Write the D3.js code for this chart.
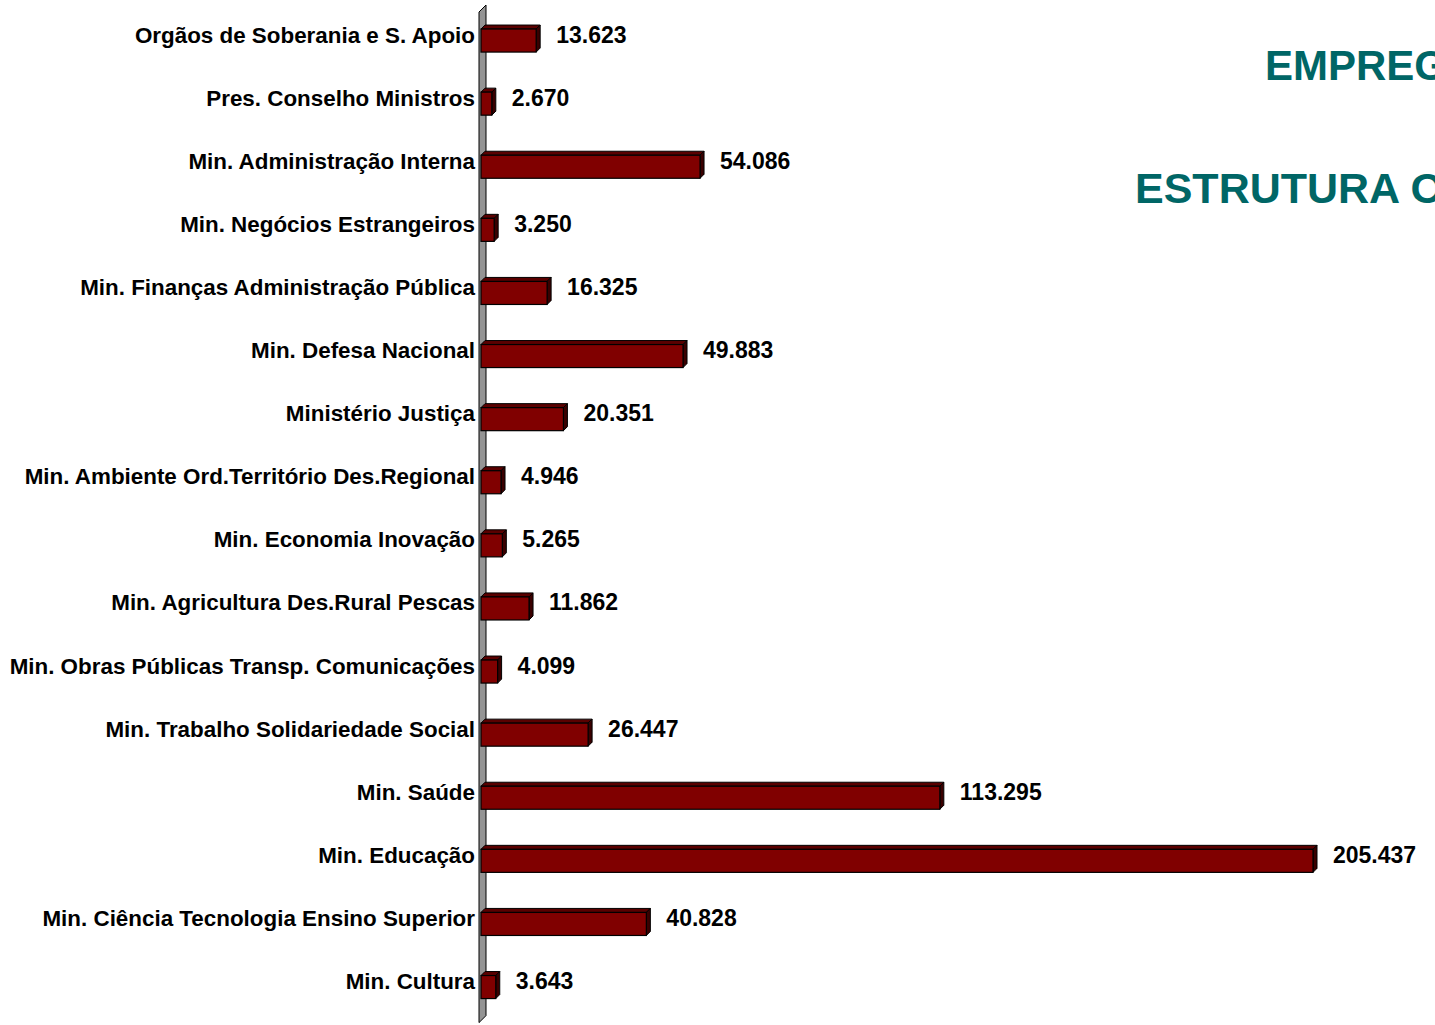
<!DOCTYPE html>
<html>
<head>
<meta charset="utf-8">
<script src="https://cdn.jsdelivr.net/npm/d3@7"></script>
<style>
  body { margin: 0; background: #fff; }
  svg { display: block; font-family: "Liberation Sans", Arial, sans-serif; }
</style>
</head>
<body>
<div id="chart"></div>
<script>
// Categories (top to bottom) and headcount per ministry
const categories = [
    "Orgãos de Soberania e S. Apoio",
    "Pres. Conselho Ministros",
    "Min. Administração Interna",
    "Min. Negócios Estrangeiros",
    "Min. Finanças Administração Pública",
    "Min. Defesa Nacional",
    "Ministério Justiça",
    "Min. Ambiente Ord.Território Des.Regional",
    "Min. Economia Inovação",
    "Min. Agricultura Des.Rural Pescas",
    "Min. Obras Públicas Transp. Comunicações",
    "Min. Trabalho Solidariedade Social",
    "Min. Saúde",
    "Min. Educação",
    "Min. Ciência Tecnologia Ensino Superior",
    "Min. Cultura"
];
const values = [13623, 2670, 54086, 3250, 16325, 49883, 20351, 4946, 5265, 11862, 4099, 26447, 113295, 205437, 40828, 3643];

const titleLines = ["EMPREGO PÚBLICO", "ESTRUTURA ORGÂNICA"];

const width = 1435, height = 1025;
const depth = 4; // 3D offset of bars

const data = categories.map((c, i) => ({ cat: c, value: values[i] }));

// Portuguese number format: 13.623
const pt = d3.formatLocale({ decimal: ",", thousands: ".", grouping: [3], currency: ["", " €"] });
const fmt = pt.format(",d");

const svg = d3.select("#chart").append("svg")
    .attr("width", width)
    .attr("height", height)
    .attr("viewBox", `0 0 ${width} ${height}`);

const x = d3.scaleLinear()
    .domain([0, d3.max(values)])
    .range([481, 1313]);

const y = d3.scaleBand()
    .domain(categories)
    .range([9, 1018.6])
    .paddingInner(0.635)
    .paddingOuter(0.3175);

// Back wall (gray slanted strip behind the bars)
const wx = x(0) - 2, wTop = y.range()[0] - 4, wBot = y.range()[1] + 4;
svg.append("polygon")
    .attr("points", [
        [wx, wTop + 7], [wx + 7, wTop], [wx + 7, wBot - 7], [wx, wBot]
    ].map(p => p.join(",")).join(" "))
    .attr("fill", "#949494")
    .attr("stroke", "#000")
    .attr("stroke-width", 1);

// Bars
const bars = svg.append("g").selectAll("g")
    .data(data)
    .join("g");

// top face
bars.append("polygon")
    .attr("points", d => {
        const x0 = x(0), x1 = x(d.value), yt = y(d.cat);
        return [[x0, yt], [x0 + depth, yt - depth], [x1 + depth, yt - depth], [x1, yt]]
            .map(p => p.join(",")).join(" ");
    })
    .attr("fill", "#5a0000")
    .attr("stroke", "#000")
    .attr("stroke-width", 1)
    .attr("stroke-linejoin", "round");

// side face
bars.append("polygon")
    .attr("points", d => {
        const x1 = x(d.value), yt = y(d.cat), yb = yt + y.bandwidth();
        return [[x1, yt], [x1 + depth, yt - depth], [x1 + depth, yb - depth], [x1, yb]]
            .map(p => p.join(",")).join(" ");
    })
    .attr("fill", "#3a0000")
    .attr("stroke", "#000")
    .attr("stroke-width", 1)
    .attr("stroke-linejoin", "round");

// front face
bars.append("rect")
    .attr("x", x(0))
    .attr("y", d => y(d.cat))
    .attr("width", d => x(d.value) - x(0))
    .attr("height", y.bandwidth())
    .attr("fill", "#800000")
    .attr("stroke", "#000")
    .attr("stroke-width", 1.2);

// Category labels
svg.append("g").selectAll("text")
    .data(data)
    .join("text")
    .attr("x", 475)
    .attr("y", d => y(d.cat) + y.bandwidth() / 2 + 2)
    .attr("text-anchor", "end")
    .attr("font-size", 22.4)
    .attr("font-weight", "bold")
    .attr("fill", "#000")
    .text(d => d.cat);

// Value labels
svg.append("g").selectAll("text")
    .data(data)
    .join("text")
    .attr("x", d => x(d.value) + 20)
    .attr("y", d => y(d.cat) + y.bandwidth() / 2 + 2)
    .attr("font-size", 23)
    .attr("font-weight", "bold")
    .attr("fill", "#000")
    .text(d => fmt(d.value));

// Title (runs off the right edge like in the original slide)
svg.append("text")
    .attr("x", 1265)
    .attr("y", 80)
    .attr("font-size", 42)
    .attr("font-weight", "bold")
    .attr("fill", "#006666")
    .text(titleLines[0]);

svg.append("text")
    .attr("x", 1135)
    .attr("y", 203)
    .attr("font-size", 43)
    .attr("font-weight", "bold")
    .attr("fill", "#006666")
    .text(titleLines[1]);
</script>
</body>
</html>
